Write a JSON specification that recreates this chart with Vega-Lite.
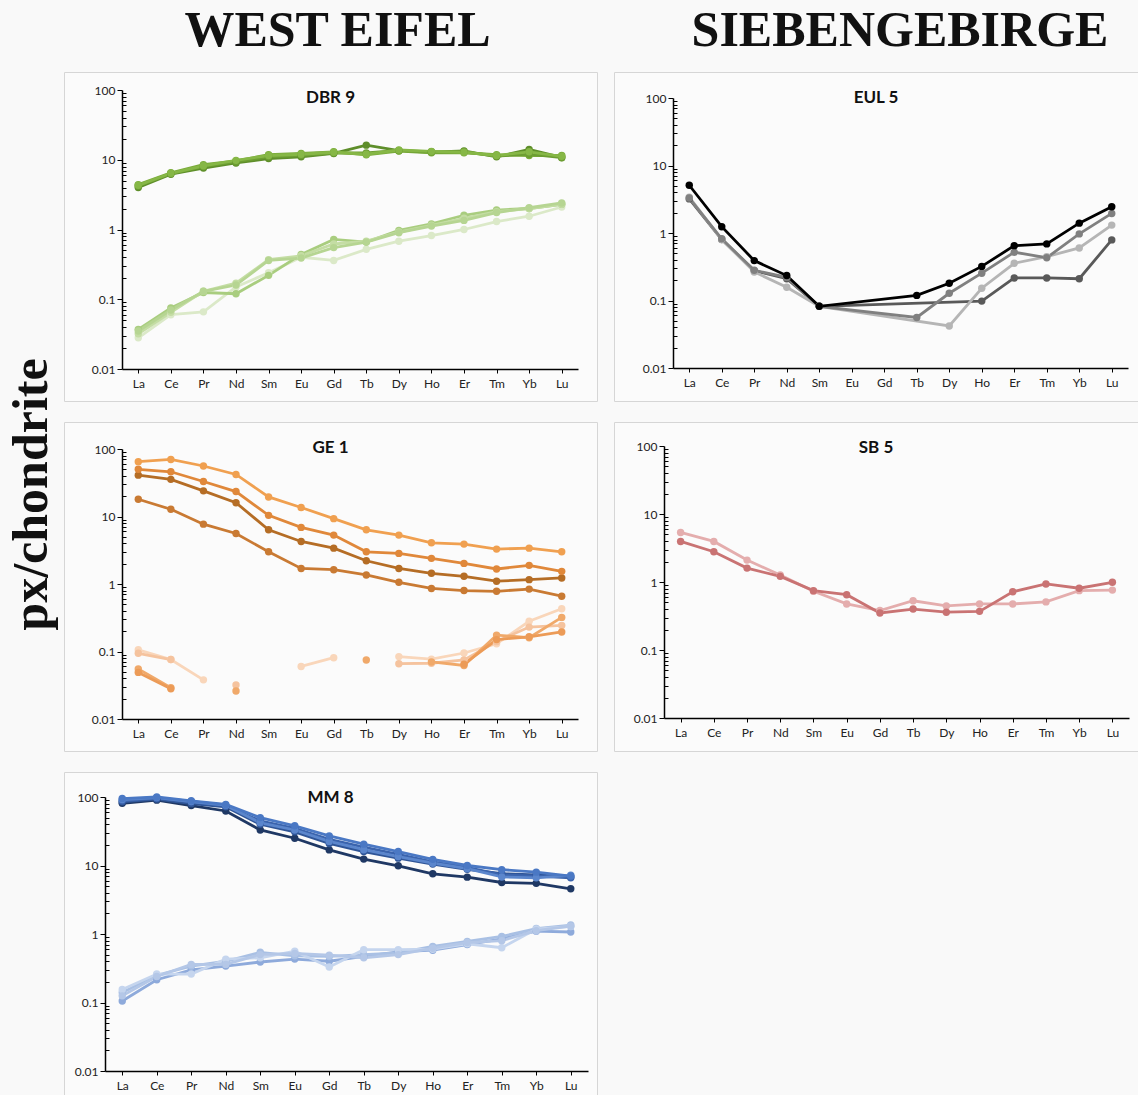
{
  "$schema": "https://vega.github.io/schema/vega-lite/v6.json",
  "background": "#f9f9f9",
  "padding": {"left": 6, "top": 5, "right": 0, "bottom": 0},
  "title": {"text": "px/chondrite", "orient": "left", "anchor": "middle", "font": "Liberation Serif", "fontSize": 50, "fontWeight": "bold", "color": "#111111", "offset": 7, "dx": 59},
  "datasets": {
    "dbr": [
      {"s":"L1","e":"La","v":0.028},{"s":"L1","e":"Ce","v":0.060},{"s":"L1","e":"Pr","v":0.066},{"s":"L1","e":"Nd","v":0.15},{"s":"L1","e":"Sm","v":0.24},{"s":"L1","e":"Eu","v":0.40},{"s":"L1","e":"Gd","v":0.36},{"s":"L1","e":"Tb","v":0.52},{"s":"L1","e":"Dy","v":0.68},{"s":"L1","e":"Ho","v":0.82},{"s":"L1","e":"Er","v":1.0},{"s":"L1","e":"Tm","v":1.3},{"s":"L1","e":"Yb","v":1.55},{"s":"L1","e":"Lu","v":2.1},
      {"s":"L2","e":"La","v":0.037},{"s":"L2","e":"Ce","v":0.075},{"s":"L2","e":"Pr","v":0.125},{"s":"L2","e":"Nd","v":0.12},{"s":"L2","e":"Sm","v":0.22},{"s":"L2","e":"Eu","v":0.44},{"s":"L2","e":"Gd","v":0.72},{"s":"L2","e":"Tb","v":0.66},{"s":"L2","e":"Dy","v":0.97},{"s":"L2","e":"Ho","v":1.2},{"s":"L2","e":"Er","v":1.6},{"s":"L2","e":"Tm","v":1.9},{"s":"L2","e":"Yb","v":2.0},{"s":"L2","e":"Lu","v":2.3},
      {"s":"L3","e":"La","v":0.032},{"s":"L3","e":"Ce","v":0.065},{"s":"L3","e":"Pr","v":0.13},{"s":"L3","e":"Nd","v":0.17},{"s":"L3","e":"Sm","v":0.37},{"s":"L3","e":"Eu","v":0.42},{"s":"L3","e":"Gd","v":0.62},{"s":"L3","e":"Tb","v":0.68},{"s":"L3","e":"Dy","v":0.92},{"s":"L3","e":"Ho","v":1.15},{"s":"L3","e":"Er","v":1.45},{"s":"L3","e":"Tm","v":1.8},{"s":"L3","e":"Yb","v":2.0},{"s":"L3","e":"Lu","v":2.3},
      {"s":"L4","e":"La","v":0.035},{"s":"L4","e":"Ce","v":0.07},{"s":"L4","e":"Pr","v":0.13},{"s":"L4","e":"Nd","v":0.16},{"s":"L4","e":"Sm","v":0.36},{"s":"L4","e":"Eu","v":0.39},{"s":"L4","e":"Gd","v":0.55},{"s":"L4","e":"Tb","v":0.66},{"s":"L4","e":"Dy","v":0.9},{"s":"L4","e":"Ho","v":1.12},{"s":"L4","e":"Er","v":1.35},{"s":"L4","e":"Tm","v":1.75},{"s":"L4","e":"Yb","v":2.05},{"s":"L4","e":"Lu","v":2.4},
      {"s":"U1","e":"La","v":4.0},{"s":"U1","e":"Ce","v":6.2},{"s":"U1","e":"Pr","v":7.6},{"s":"U1","e":"Nd","v":9.0},{"s":"U1","e":"Sm","v":10.4},{"s":"U1","e":"Eu","v":11.0},{"s":"U1","e":"Gd","v":12.3},{"s":"U1","e":"Tb","v":16.2},{"s":"U1","e":"Dy","v":13.5},{"s":"U1","e":"Ho","v":12.8},{"s":"U1","e":"Er","v":13.4},{"s":"U1","e":"Tm","v":11.0},{"s":"U1","e":"Yb","v":14.0},{"s":"U1","e":"Lu","v":10.8},
      {"s":"U2","e":"La","v":4.4},{"s":"U2","e":"Ce","v":6.5},{"s":"U2","e":"Pr","v":8.5},{"s":"U2","e":"Nd","v":9.6},{"s":"U2","e":"Sm","v":11.8},{"s":"U2","e":"Eu","v":12.3},{"s":"U2","e":"Gd","v":13.0},{"s":"U2","e":"Tb","v":11.8},{"s":"U2","e":"Dy","v":13.3},{"s":"U2","e":"Ho","v":12.6},{"s":"U2","e":"Er","v":12.6},{"s":"U2","e":"Tm","v":11.8},{"s":"U2","e":"Yb","v":11.5},{"s":"U2","e":"Lu","v":11.5},
      {"s":"U3","e":"La","v":4.2},{"s":"U3","e":"Ce","v":6.3},{"s":"U3","e":"Pr","v":8.0},{"s":"U3","e":"Nd","v":9.3},{"s":"U3","e":"Sm","v":11.0},{"s":"U3","e":"Eu","v":11.5},{"s":"U3","e":"Gd","v":12.5},{"s":"U3","e":"Tb","v":12.5},{"s":"U3","e":"Dy","v":13.6},{"s":"U3","e":"Ho","v":13.0},{"s":"U3","e":"Er","v":13.0},{"s":"U3","e":"Tm","v":11.3},{"s":"U3","e":"Yb","v":12.0},{"s":"U3","e":"Lu","v":10.7},
      {"s":"U4","e":"La","v":4.3},{"s":"U4","e":"Ce","v":6.4},{"s":"U4","e":"Pr","v":8.2},{"s":"U4","e":"Nd","v":9.8},{"s":"U4","e":"Sm","v":11.5},{"s":"U4","e":"Eu","v":12.0},{"s":"U4","e":"Gd","v":12.8},{"s":"U4","e":"Tb","v":12.0},{"s":"U4","e":"Dy","v":13.8},{"s":"U4","e":"Ho","v":13.2},{"s":"U4","e":"Er","v":12.8},{"s":"U4","e":"Tm","v":11.5},{"s":"U4","e":"Yb","v":13.0},{"s":"U4","e":"Lu","v":11.2}
    ],
    "ge": [
      {"s":"P1","g":"P1a","e":"La","v":0.106},{"s":"P1","g":"P1a","e":"Ce","v":0.076},{"s":"P1","g":"P1a","e":"Pr","v":0.038},
      {"s":"P1","g":"P1b","e":"Eu","v":0.060},{"s":"P1","g":"P1b","e":"Gd","v":0.081},
      {"s":"P1","g":"P1c","e":"Dy","v":0.084},{"s":"P1","g":"P1c","e":"Ho","v":0.077},{"s":"P1","g":"P1c","e":"Er","v":0.095},{"s":"P1","g":"P1c","e":"Tm","v":0.13},{"s":"P1","g":"P1c","e":"Yb","v":0.28},{"s":"P1","g":"P1c","e":"Lu","v":0.43},
      {"s":"P2","g":"P2a","e":"La","v":0.094},{"s":"P2","g":"P2a","e":"Ce","v":0.076},
      {"s":"P2","g":"P2b","e":"Nd","v":0.032},
      {"s":"P2","g":"P2c","e":"Dy","v":0.066},{"s":"P2","g":"P2c","e":"Ho","v":0.067},{"s":"P2","g":"P2c","e":"Er","v":0.075},{"s":"P2","g":"P2c","e":"Tm","v":0.14},{"s":"P2","g":"P2c","e":"Yb","v":0.23},{"s":"P2","g":"P2c","e":"Lu","v":0.243},
      {"s":"P3","g":"P3a","e":"La","v":0.055},{"s":"P3","g":"P3a","e":"Ce","v":0.029},
      {"s":"P3","g":"P3b","e":"Nd","v":0.026},
      {"s":"P3","g":"P3c","e":"Tb","v":0.075},
      {"s":"P3","g":"P3d","e":"Ho","v":0.07},{"s":"P3","g":"P3d","e":"Er","v":0.062},{"s":"P3","g":"P3d","e":"Tm","v":0.175},{"s":"P3","g":"P3d","e":"Yb","v":0.16},{"s":"P3","g":"P3d","e":"Lu","v":0.32},
      {"s":"P4","g":"P4a","e":"La","v":0.049},{"s":"P4","g":"P4a","e":"Ce","v":0.028},
      {"s":"P4","g":"P4b","e":"Er","v":0.065},{"s":"P4","g":"P4b","e":"Tm","v":0.15},{"s":"P4","g":"P4b","e":"Yb","v":0.165},{"s":"P4","g":"P4b","e":"Lu","v":0.195},
      {"s":"O4","g":"O4","e":"La","v":18},{"s":"O4","g":"O4","e":"Ce","v":12.8},{"s":"O4","g":"O4","e":"Pr","v":7.7},{"s":"O4","g":"O4","e":"Nd","v":5.6},{"s":"O4","g":"O4","e":"Sm","v":3.0},{"s":"O4","g":"O4","e":"Eu","v":1.7},{"s":"O4","g":"O4","e":"Gd","v":1.63},{"s":"O4","g":"O4","e":"Tb","v":1.36},{"s":"O4","g":"O4","e":"Dy","v":1.06},{"s":"O4","g":"O4","e":"Ho","v":0.86},{"s":"O4","g":"O4","e":"Er","v":0.8},{"s":"O4","g":"O4","e":"Tm","v":0.78},{"s":"O4","g":"O4","e":"Yb","v":0.84},{"s":"O4","g":"O4","e":"Lu","v":0.66},
      {"s":"O3","g":"O3","e":"La","v":41},{"s":"O3","g":"O3","e":"Ce","v":35.5},{"s":"O3","g":"O3","e":"Pr","v":24},{"s":"O3","g":"O3","e":"Nd","v":16},{"s":"O3","g":"O3","e":"Sm","v":6.35},{"s":"O3","g":"O3","e":"Eu","v":4.27},{"s":"O3","g":"O3","e":"Gd","v":3.4},{"s":"O3","g":"O3","e":"Tb","v":2.21},{"s":"O3","g":"O3","e":"Dy","v":1.7},{"s":"O3","g":"O3","e":"Ho","v":1.44},{"s":"O3","g":"O3","e":"Er","v":1.3},{"s":"O3","g":"O3","e":"Tm","v":1.1},{"s":"O3","g":"O3","e":"Yb","v":1.16},{"s":"O3","g":"O3","e":"Lu","v":1.23},
      {"s":"O2","g":"O2","e":"La","v":50},{"s":"O2","g":"O2","e":"Ce","v":46},{"s":"O2","g":"O2","e":"Pr","v":33},{"s":"O2","g":"O2","e":"Nd","v":23.4},{"s":"O2","g":"O2","e":"Sm","v":10.4},{"s":"O2","g":"O2","e":"Eu","v":6.9},{"s":"O2","g":"O2","e":"Gd","v":5.3},{"s":"O2","g":"O2","e":"Tb","v":3.0},{"s":"O2","g":"O2","e":"Dy","v":2.84},{"s":"O2","g":"O2","e":"Ho","v":2.4},{"s":"O2","g":"O2","e":"Er","v":2.02},{"s":"O2","g":"O2","e":"Tm","v":1.67},{"s":"O2","g":"O2","e":"Yb","v":1.89},{"s":"O2","g":"O2","e":"Lu","v":1.54},
      {"s":"O1","g":"O1","e":"La","v":65},{"s":"O1","g":"O1","e":"Ce","v":70},{"s":"O1","g":"O1","e":"Pr","v":56},{"s":"O1","g":"O1","e":"Nd","v":42},{"s":"O1","g":"O1","e":"Sm","v":19.5},{"s":"O1","g":"O1","e":"Eu","v":13.6},{"s":"O1","g":"O1","e":"Gd","v":9.3},{"s":"O1","g":"O1","e":"Tb","v":6.35},{"s":"O1","g":"O1","e":"Dy","v":5.3},{"s":"O1","g":"O1","e":"Ho","v":4.08},{"s":"O1","g":"O1","e":"Er","v":3.9},{"s":"O1","g":"O1","e":"Tm","v":3.29},{"s":"O1","g":"O1","e":"Yb","v":3.4},{"s":"O1","g":"O1","e":"Lu","v":3.0}
    ],
    "mm": [
      {"s":"LB1","e":"La","v":0.105},{"s":"LB1","e":"Ce","v":0.215},{"s":"LB1","e":"Pr","v":0.30},{"s":"LB1","e":"Nd","v":0.34},{"s":"LB1","e":"Sm","v":0.39},{"s":"LB1","e":"Eu","v":0.43},{"s":"LB1","e":"Gd","v":0.40},{"s":"LB1","e":"Tb","v":0.47},{"s":"LB1","e":"Dy","v":0.55},{"s":"LB1","e":"Ho","v":0.58},{"s":"LB1","e":"Er","v":0.70},{"s":"LB1","e":"Tm","v":0.85},{"s":"LB1","e":"Yb","v":1.10},{"s":"LB1","e":"Lu","v":1.07},
      {"s":"LB2","e":"La","v":0.14},{"s":"LB2","e":"Ce","v":0.25},{"s":"LB2","e":"Pr","v":0.34},{"s":"LB2","e":"Nd","v":0.40},{"s":"LB2","e":"Sm","v":0.54},{"s":"LB2","e":"Eu","v":0.48},{"s":"LB2","e":"Gd","v":0.47},{"s":"LB2","e":"Tb","v":0.50},{"s":"LB2","e":"Dy","v":0.53},{"s":"LB2","e":"Ho","v":0.66},{"s":"LB2","e":"Er","v":0.78},{"s":"LB2","e":"Tm","v":0.92},{"s":"LB2","e":"Yb","v":1.2},{"s":"LB2","e":"Lu","v":1.35},
      {"s":"LB3","e":"La","v":0.155},{"s":"LB3","e":"Ce","v":0.26},{"s":"LB3","e":"Pr","v":0.26},{"s":"LB3","e":"Nd","v":0.43},{"s":"LB3","e":"Sm","v":0.45},{"s":"LB3","e":"Eu","v":0.56},{"s":"LB3","e":"Gd","v":0.33},{"s":"LB3","e":"Tb","v":0.59},{"s":"LB3","e":"Dy","v":0.59},{"s":"LB3","e":"Ho","v":0.6},{"s":"LB3","e":"Er","v":0.72},{"s":"LB3","e":"Tm","v":0.63},{"s":"LB3","e":"Yb","v":1.18},{"s":"LB3","e":"Lu","v":1.29},
      {"s":"LB4","e":"La","v":0.125},{"s":"LB4","e":"Ce","v":0.24},{"s":"LB4","e":"Pr","v":0.36},{"s":"LB4","e":"Nd","v":0.36},{"s":"LB4","e":"Sm","v":0.50},{"s":"LB4","e":"Eu","v":0.52},{"s":"LB4","e":"Gd","v":0.49},{"s":"LB4","e":"Tb","v":0.45},{"s":"LB4","e":"Dy","v":0.50},{"s":"LB4","e":"Ho","v":0.62},{"s":"LB4","e":"Er","v":0.75},{"s":"LB4","e":"Tm","v":0.80},{"s":"LB4","e":"Yb","v":1.12},{"s":"LB4","e":"Lu","v":1.3},
      {"s":"B1","e":"La","v":81},{"s":"B1","e":"Ce","v":90},{"s":"B1","e":"Pr","v":75},{"s":"B1","e":"Nd","v":62.5},{"s":"B1","e":"Sm","v":33},{"s":"B1","e":"Eu","v":25},{"s":"B1","e":"Gd","v":16.9},{"s":"B1","e":"Tb","v":12.4},{"s":"B1","e":"Dy","v":9.9},{"s":"B1","e":"Ho","v":7.56},{"s":"B1","e":"Er","v":6.76},{"s":"B1","e":"Tm","v":5.65},{"s":"B1","e":"Yb","v":5.5},{"s":"B1","e":"Lu","v":4.57},
      {"s":"B5","e":"La","v":85},{"s":"B5","e":"Ce","v":93},{"s":"B5","e":"Pr","v":80},{"s":"B5","e":"Nd","v":72},{"s":"B5","e":"Sm","v":40},{"s":"B5","e":"Eu","v":31},{"s":"B5","e":"Gd","v":21},{"s":"B5","e":"Tb","v":16},{"s":"B5","e":"Dy","v":12.8},{"s":"B5","e":"Ho","v":10.5},{"s":"B5","e":"Er","v":8.8},{"s":"B5","e":"Tm","v":7.6},{"s":"B5","e":"Yb","v":7.3},{"s":"B5","e":"Lu","v":6.8},
      {"s":"B3","e":"La","v":88},{"s":"B3","e":"Ce","v":96},{"s":"B3","e":"Pr","v":85},{"s":"B3","e":"Nd","v":74},{"s":"B3","e":"Sm","v":45},{"s":"B3","e":"Eu","v":35},{"s":"B3","e":"Gd","v":24},{"s":"B3","e":"Tb","v":18.5},{"s":"B3","e":"Dy","v":14.5},{"s":"B3","e":"Ho","v":11.3},{"s":"B3","e":"Er","v":9.4},{"s":"B3","e":"Tm","v":7.3},{"s":"B3","e":"Yb","v":7.0},{"s":"B3","e":"Lu","v":6.6},
      {"s":"B4","e":"La","v":92},{"s":"B4","e":"Ce","v":98},{"s":"B4","e":"Pr","v":86},{"s":"B4","e":"Nd","v":76},{"s":"B4","e":"Sm","v":42},{"s":"B4","e":"Eu","v":33},{"s":"B4","e":"Gd","v":22.5},{"s":"B4","e":"Tb","v":17},{"s":"B4","e":"Dy","v":13.5},{"s":"B4","e":"Ho","v":10.8},{"s":"B4","e":"Er","v":9.0},{"s":"B4","e":"Tm","v":6.8},{"s":"B4","e":"Yb","v":6.6},{"s":"B4","e":"Lu","v":7.2},
      {"s":"B2","e":"La","v":95},{"s":"B2","e":"Ce","v":100},{"s":"B2","e":"Pr","v":88},{"s":"B2","e":"Nd","v":78},{"s":"B2","e":"Sm","v":50},{"s":"B2","e":"Eu","v":38},{"s":"B2","e":"Gd","v":27},{"s":"B2","e":"Tb","v":20.5},{"s":"B2","e":"Dy","v":16},{"s":"B2","e":"Ho","v":12.3},{"s":"B2","e":"Er","v":10},{"s":"B2","e":"Tm","v":8.7},{"s":"B2","e":"Yb","v":8.0},{"s":"B2","e":"Lu","v":7.0}
    ],
    "eul": [
      {"s":"E1","e":"La","v":3.2},{"s":"E1","e":"Ce","v":0.8},{"s":"E1","e":"Pr","v":0.277},{"s":"E1","e":"Nd","v":0.21},{"s":"E1","e":"Sm","v":0.082},{"s":"E1","e":"Ho","v":0.098},{"s":"E1","e":"Er","v":0.216},{"s":"E1","e":"Tm","v":0.216},{"s":"E1","e":"Yb","v":0.21},{"s":"E1","e":"Lu","v":0.79},
      {"s":"E2","e":"La","v":3.4},{"s":"E2","e":"Ce","v":0.8},{"s":"E2","e":"Pr","v":0.265},{"s":"E2","e":"Nd","v":0.157},{"s":"E2","e":"Sm","v":0.082},{"s":"E2","e":"Dy","v":0.042},{"s":"E2","e":"Ho","v":0.152},{"s":"E2","e":"Er","v":0.356},{"s":"E2","e":"Tm","v":0.447},{"s":"E2","e":"Yb","v":0.6},{"s":"E2","e":"Lu","v":1.31},
      {"s":"E3","e":"La","v":3.3},{"s":"E3","e":"Ce","v":0.82},{"s":"E3","e":"Pr","v":0.28},{"s":"E3","e":"Nd","v":0.22},{"s":"E3","e":"Sm","v":0.082},{"s":"E3","e":"Tb","v":0.056},{"s":"E3","e":"Dy","v":0.128},{"s":"E3","e":"Ho","v":0.254},{"s":"E3","e":"Er","v":0.52},{"s":"E3","e":"Tm","v":0.43},{"s":"E3","e":"Yb","v":0.97},{"s":"E3","e":"Lu","v":1.95},
      {"s":"E4","e":"La","v":5.1},{"s":"E4","e":"Ce","v":1.24},{"s":"E4","e":"Pr","v":0.39},{"s":"E4","e":"Nd","v":0.234},{"s":"E4","e":"Sm","v":0.082},{"s":"E4","e":"Tb","v":0.119},{"s":"E4","e":"Dy","v":0.18},{"s":"E4","e":"Ho","v":0.32},{"s":"E4","e":"Er","v":0.65},{"s":"E4","e":"Tm","v":0.69},{"s":"E4","e":"Yb","v":1.4},{"s":"E4","e":"Lu","v":2.45}
    ],
    "sb": [
      {"s":"S2","e":"La","v":5.35},{"s":"S2","e":"Ce","v":3.95},{"s":"S2","e":"Pr","v":2.1},{"s":"S2","e":"Nd","v":1.27},{"s":"S2","e":"Sm","v":0.73},{"s":"S2","e":"Eu","v":0.476},{"s":"S2","e":"Gd","v":0.38},{"s":"S2","e":"Tb","v":0.53},{"s":"S2","e":"Dy","v":0.445},{"s":"S2","e":"Ho","v":0.476},{"s":"S2","e":"Er","v":0.476},{"s":"S2","e":"Tm","v":0.51},{"s":"S2","e":"Yb","v":0.746},{"s":"S2","e":"Lu","v":0.76},
      {"s":"S1","e":"La","v":3.95},{"s":"S1","e":"Ce","v":2.79},{"s":"S1","e":"Pr","v":1.6},{"s":"S1","e":"Nd","v":1.21},{"s":"S1","e":"Sm","v":0.746},{"s":"S1","e":"Eu","v":0.65},{"s":"S1","e":"Gd","v":0.35},{"s":"S1","e":"Tb","v":0.40},{"s":"S1","e":"Dy","v":0.36},{"s":"S1","e":"Ho","v":0.37},{"s":"S1","e":"Er","v":0.72},{"s":"S1","e":"Tm","v":0.935},{"s":"S1","e":"Yb","v":0.81},{"s":"S1","e":"Lu","v":0.99}
    ]
  },
  "hconcat": [
    {
      "title": {"text": "WEST EIFEL", "anchor": "middle", "font": "Liberation Serif", "fontSize": 50, "fontWeight": "bold", "color": "#111111", "offset": 16, "dx": 7},
      "spacing": 19,
      "vconcat": [
        {
          "width": 533, "height": 329,
          "data": {"name": "dbr"},
          "title": {"text": "DBR 9", "offset": -35, "anchor": "middle", "font": "Lato", "fontSize": 17, "fontWeight": "bold", "color": "#111111"},
          "encoding": {
            "x": {"field": "e", "type": "ordinal", "scale": {"domain": ["La","Ce","Pr","Nd","Sm","Eu","Gd","Tb","Dy","Ho","Er","Tm","Yb","Lu"], "range": [58, 514], "padding": 0.5}, "axis": {"title": null, "offset": -32, "labelAngle": 0, "tickSize": 4, "labelPadding": 5}},
            "y": {"field": "v", "type": "quantitative", "scale": {"type": "log", "domain": [0.01, 100], "range": [297, 18]}, "axis": {"title": null, "offset": -58, "values": [0.01,0.02,0.03,0.04,0.05,0.06,0.07,0.08,0.09,0.1,0.2,0.3,0.4,0.5,0.6,0.7,0.8,0.9,1,2,3,4,5,6,7,8,9,10,20,30,40,50,60,70,80,90,100], "format": "~g", "labelOverlap": false, "labelFlush": false, "labelExpr": "abs(log(datum.value)/LN10 - round(log(datum.value)/LN10)) < 0.001 ? datum.label : ''", "tickSize": {"condition": {"test": "abs(log(datum.value)/LN10 - round(log(datum.value)/LN10)) < 0.001", "value": 5}, "value": -4}}},
            "color": {"field": "s", "type": "nominal", "scale": {"domain": ["L1","L2","L3","L4","U1","U2","U3","U4"], "range": ["#dbe9c8","#a9cd7f","#c4dda4","#b6d592","#5e8e2a","#7aab3a","#6c9d32","#86b746"]}, "legend": null}
          },
          "layer": [
            {"mark": {"type": "line", "strokeWidth": 2.8}, "encoding": {"order": {"value": null}}},
            {"mark": {"type": "point", "filled": true, "size": 55, "opacity": 1}}
          ]
        },
        {
          "width": 533, "height": 329,
          "data": {"name": "ge"},
          "title": {"text": "GE 1", "offset": -35, "anchor": "middle", "font": "Lato", "fontSize": 17, "fontWeight": "bold", "color": "#111111"},
          "encoding": {
            "x": {"field": "e", "type": "ordinal", "scale": {"domain": ["La","Ce","Pr","Nd","Sm","Eu","Gd","Tb","Dy","Ho","Er","Tm","Yb","Lu"], "range": [58, 514], "padding": 0.5}, "axis": {"title": null, "offset": -32, "labelAngle": 0, "tickSize": 4, "labelPadding": 5}},
            "y": {"field": "v", "type": "quantitative", "scale": {"type": "log", "domain": [0.01, 100], "range": [297, 27]}, "axis": {"title": null, "offset": -58, "values": [0.01,0.02,0.03,0.04,0.05,0.06,0.07,0.08,0.09,0.1,0.2,0.3,0.4,0.5,0.6,0.7,0.8,0.9,1,2,3,4,5,6,7,8,9,10,20,30,40,50,60,70,80,90,100], "format": "~g", "labelOverlap": false, "labelFlush": false, "labelExpr": "abs(log(datum.value)/LN10 - round(log(datum.value)/LN10)) < 0.001 ? datum.label : ''", "tickSize": {"condition": {"test": "abs(log(datum.value)/LN10 - round(log(datum.value)/LN10)) < 0.001", "value": 5}, "value": -4}}},
            "color": {"field": "s", "type": "nominal", "scale": {"domain": ["P1","P2","P3","P4","O1","O2","O3","O4"], "range": ["#f9d6ba","#f5c39e","#f0a96a","#ec9b57","#f0a050","#e0883a","#b56d25","#c97a33"]}, "legend": null},
            "detail": {"field": "g", "type": "nominal"}
          },
          "layer": [
            {"mark": {"type": "line", "strokeWidth": 2.8}, "encoding": {"order": {"value": null}}},
            {"mark": {"type": "point", "filled": true, "size": 55, "opacity": 1}}
          ]
        },
        {
          "width": 533, "height": 329,
          "data": {"name": "mm"},
          "title": {"text": "MM 8", "offset": -35, "anchor": "middle", "font": "Lato", "fontSize": 17, "fontWeight": "bold", "color": "#111111"},
          "encoding": {
            "x": {"field": "e", "type": "ordinal", "scale": {"domain": ["La","Ce","Pr","Nd","Sm","Eu","Gd","Tb","Dy","Ho","Er","Tm","Yb","Lu"], "range": [41, 524], "padding": 0.5}, "axis": {"title": null, "offset": -30, "labelAngle": 0, "tickSize": 4, "labelPadding": 5}},
            "y": {"field": "v", "type": "quantitative", "scale": {"type": "log", "domain": [0.01, 100], "range": [299, 25]}, "axis": {"title": null, "offset": -41, "values": [0.01,0.02,0.03,0.04,0.05,0.06,0.07,0.08,0.09,0.1,0.2,0.3,0.4,0.5,0.6,0.7,0.8,0.9,1,2,3,4,5,6,7,8,9,10,20,30,40,50,60,70,80,90,100], "format": "~g", "labelOverlap": false, "labelFlush": false, "labelExpr": "abs(log(datum.value)/LN10 - round(log(datum.value)/LN10)) < 0.001 ? datum.label : ''", "tickSize": {"condition": {"test": "abs(log(datum.value)/LN10 - round(log(datum.value)/LN10)) < 0.001", "value": 5}, "value": -4}}},
            "color": {"field": "s", "type": "nominal", "scale": {"domain": ["LB1","LB2","LB3","LB4","B1","B2","B3","B4","B5"], "range": ["#8eaadb","#a9c0e4","#c5d5ee","#b4c7e7","#1f3864","#4a78c4","#3b64ad","#5b86cc","#2f5597"]}, "legend": null}
          },
          "layer": [
            {"mark": {"type": "line", "strokeWidth": 2.8}, "encoding": {"order": {"value": null}}},
            {"mark": {"type": "point", "filled": true, "size": 55, "opacity": 1}}
          ]
        }
      ],
      "resolve": {"scale": {"x": "independent", "y": "independent", "color": "independent"}}
    },
    {
      "title": {"text": "SIEBENGEBIRGE", "anchor": "middle", "font": "Liberation Serif", "fontSize": 50, "fontWeight": "bold", "color": "#111111", "offset": 16, "dx": 24},
      "spacing": 19,
      "vconcat": [
        {
          "width": 524, "height": 329,
          "data": {"name": "eul"},
          "title": {"text": "EUL 5", "offset": -35, "anchor": "middle", "font": "Lato", "fontSize": 17, "fontWeight": "bold", "color": "#111111"},
          "encoding": {
            "x": {"field": "e", "type": "ordinal", "scale": {"domain": ["La","Ce","Pr","Nd","Sm","Eu","Gd","Tb","Dy","Ho","Er","Tm","Yb","Lu"], "range": [59, 514], "padding": 0.5}, "axis": {"title": null, "offset": -33, "labelAngle": 0, "tickSize": 4, "labelPadding": 5}},
            "y": {"field": "v", "type": "quantitative", "scale": {"type": "log", "domain": [0.01, 100], "range": [296, 26]}, "axis": {"title": null, "offset": -59, "values": [0.01,0.02,0.03,0.04,0.05,0.06,0.07,0.08,0.09,0.1,0.2,0.3,0.4,0.5,0.6,0.7,0.8,0.9,1,2,3,4,5,6,7,8,9,10,20,30,40,50,60,70,80,90,100], "format": "~g", "labelOverlap": false, "labelFlush": false, "labelExpr": "abs(log(datum.value)/LN10 - round(log(datum.value)/LN10)) < 0.001 ? datum.label : ''", "tickSize": {"condition": {"test": "abs(log(datum.value)/LN10 - round(log(datum.value)/LN10)) < 0.001", "value": 5}, "value": -4}}},
            "color": {"field": "s", "type": "nominal", "scale": {"domain": ["E1","E2","E3","E4"], "range": ["#595959","#b5b5b5","#808080","#000000"]}, "legend": null}
          },
          "layer": [
            {"mark": {"type": "line", "strokeWidth": 2.8}, "encoding": {"order": {"value": null}}},
            {"mark": {"type": "point", "filled": true, "size": 55, "opacity": 1}}
          ]
        },
        {
          "width": 524, "height": 329,
          "data": {"name": "sb"},
          "title": {"text": "SB 5", "offset": -35, "anchor": "middle", "font": "Lato", "fontSize": 17, "fontWeight": "bold", "color": "#111111"},
          "encoding": {
            "x": {"field": "e", "type": "ordinal", "scale": {"domain": ["La","Ce","Pr","Nd","Sm","Eu","Gd","Tb","Dy","Ho","Er","Tm","Yb","Lu"], "range": [50, 515], "padding": 0.5}, "axis": {"title": null, "offset": -33, "labelAngle": 0, "tickSize": 4, "labelPadding": 5}},
            "y": {"field": "v", "type": "quantitative", "scale": {"type": "log", "domain": [0.01, 100], "range": [296, 24]}, "axis": {"title": null, "offset": -50, "values": [0.01,0.02,0.03,0.04,0.05,0.06,0.07,0.08,0.09,0.1,0.2,0.3,0.4,0.5,0.6,0.7,0.8,0.9,1,2,3,4,5,6,7,8,9,10,20,30,40,50,60,70,80,90,100], "format": "~g", "labelOverlap": false, "labelFlush": false, "labelExpr": "abs(log(datum.value)/LN10 - round(log(datum.value)/LN10)) < 0.001 ? datum.label : ''", "tickSize": {"condition": {"test": "abs(log(datum.value)/LN10 - round(log(datum.value)/LN10)) < 0.001", "value": 5}, "value": -4}}},
            "color": {"field": "s", "type": "nominal", "scale": {"domain": ["S1","S2"], "range": ["#c97373","#e4adad"]}, "legend": null}
          },
          "layer": [
            {"mark": {"type": "line", "strokeWidth": 2.8}, "encoding": {"order": {"value": null}}},
            {"mark": {"type": "point", "filled": true, "size": 55, "opacity": 1}}
          ]
        }
      ],
      "resolve": {"scale": {"x": "independent", "y": "independent", "color": "independent"}}
    }
  ],
  "spacing": 15,
  "resolve": {"scale": {"x": "independent", "y": "independent", "color": "independent"}},
  "config": {
    "view": {"fill": "#fbfbfb", "stroke": "#d6d6d6", "strokeWidth": 1},
    "axis": {"grid": false, "domainColor": "#000000", "domainWidth": 1.5, "tickColor": "#000000", "tickWidth": 1, "labelFont": "Lato", "labelFontSize": 12, "labelColor": "#222222"}
  }
}
